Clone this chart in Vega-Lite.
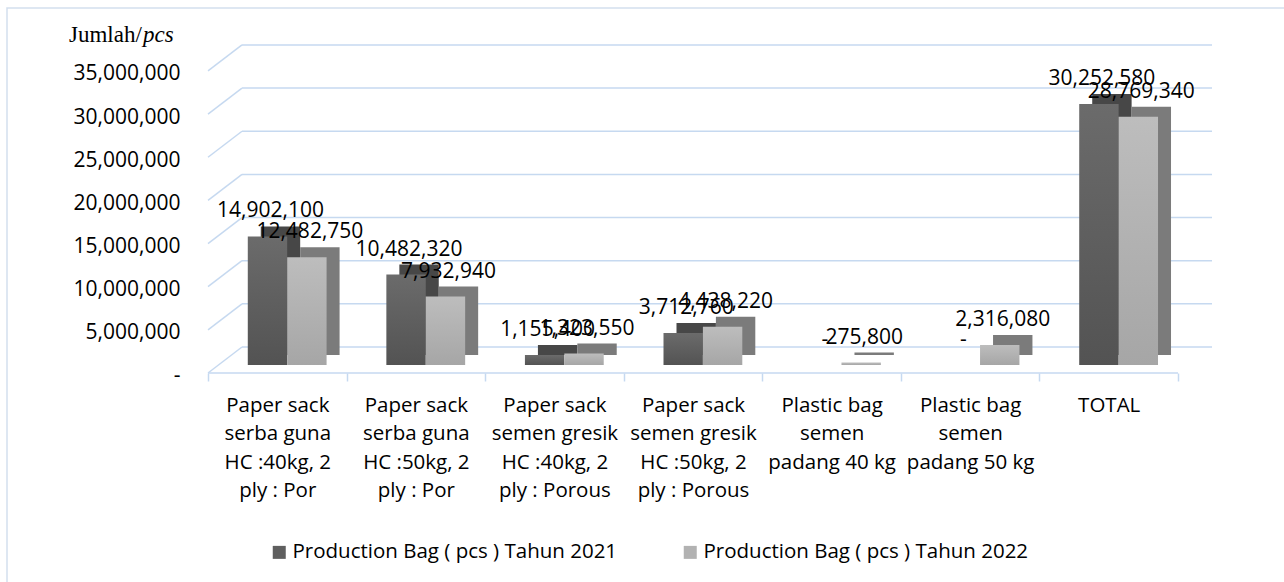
{
  "$schema": "https://vega.github.io/schema/vega-lite/v6.json",
  "width": 1278,
  "height": 575,
  "autosize": "none",
  "padding": {"left": 7, "top": 8, "right": -1, "bottom": -1},
  "background": "white",
  "config": {"view": {"stroke": "#d3dfee", "strokeWidth": 1.5}, "font": "Open Sans"},
  "datasets": {
    "bars": [
      {"cat": "Paper sack\nserba guna\nHC :40kg, 2\nply : Por", "series": "Production Bag ( pcs ) Tahun 2021", "value": 14902100},
      {"cat": "Paper sack\nserba guna\nHC :40kg, 2\nply : Por", "series": "Production Bag ( pcs ) Tahun 2022", "value": 12482750},
      {"cat": "Paper sack\nserba guna\nHC :50kg, 2\nply : Por", "series": "Production Bag ( pcs ) Tahun 2021", "value": 10482320},
      {"cat": "Paper sack\nserba guna\nHC :50kg, 2\nply : Por", "series": "Production Bag ( pcs ) Tahun 2022", "value": 7932940},
      {"cat": "Paper sack\nsemen gresik\nHC :40kg, 2\nply : Porous", "series": "Production Bag ( pcs ) Tahun 2021", "value": 1155400},
      {"cat": "Paper sack\nsemen gresik\nHC :40kg, 2\nply : Porous", "series": "Production Bag ( pcs ) Tahun 2022", "value": 1323550},
      {"cat": "Paper sack\nsemen gresik\nHC :50kg, 2\nply : Porous", "series": "Production Bag ( pcs ) Tahun 2021", "value": 3712760},
      {"cat": "Paper sack\nsemen gresik\nHC :50kg, 2\nply : Porous", "series": "Production Bag ( pcs ) Tahun 2022", "value": 4438220},
      {"cat": "Plastic bag\nsemen\npadang 40 kg", "series": "Production Bag ( pcs ) Tahun 2021", "value": 0},
      {"cat": "Plastic bag\nsemen\npadang 40 kg", "series": "Production Bag ( pcs ) Tahun 2022", "value": 275800},
      {"cat": "Plastic bag\nsemen\npadang 50 kg", "series": "Production Bag ( pcs ) Tahun 2021", "value": 0},
      {"cat": "Plastic bag\nsemen\npadang 50 kg", "series": "Production Bag ( pcs ) Tahun 2022", "value": 2316080},
      {"cat": "TOTAL", "series": "Production Bag ( pcs ) Tahun 2021", "value": 30252580},
      {"cat": "TOTAL", "series": "Production Bag ( pcs ) Tahun 2022", "value": 28769340}
    ],
    "grid": [
      {"v": 0}, {"v": 5000000}, {"v": 10000000}, {"v": 15000000},
      {"v": 20000000}, {"v": 25000000}, {"v": 30000000}, {"v": 35000000}
    ]
  },
  "layer": [
    {
      "data": {"name": "grid"},
      "mark": {"type": "rule", "color": "#c6d9f0", "strokeWidth": 1.5, "yOffset": -18, "xOffset": -69.29, "x2Offset": 69.29},
      "encoding": {
        "x": {"datum": "Paper sack\nserba guna\nHC :40kg, 2\nply : Por", "type": "nominal",
          "scale": {"domain": ["Paper sack\nserba guna\nHC :40kg, 2\nply : Por", "Paper sack\nserba guna\nHC :50kg, 2\nply : Por", "Paper sack\nsemen gresik\nHC :40kg, 2\nply : Porous", "Paper sack\nsemen gresik\nHC :50kg, 2\nply : Porous", "Plastic bag\nsemen\npadang 40 kg", "Plastic bag\nsemen\npadang 50 kg", "TOTAL"], "range": [235, 1205], "paddingInner": 0, "paddingOuter": 0},
          "axis": {"title": null, "domain": false, "ticks": true, "tickBand": "extent", "tickColor": "#c6d9f0", "tickWidth": 1.5, "tickSize": 8, "labelAngle": 0, "labelExpr": "split(datum.label, '\\n')", "labelFont": "Open Sans", "labelFontSize": 20.5, "labelLineHeight": 28.5, "labelPadding": 14, "labelColor": "#000000", "labelLimit": 300, "labelOverlap": false, "grid": false, "offset": -210, "position": -34}},
        "x2": {"datum": "TOTAL"},
        "y": {"field": "v", "type": "quantitative", "scale": {"domain": [-25261000, 41367000], "nice": false},
          "axis": {"values": [0, 5000000, 10000000, 15000000, 20000000, 25000000, 30000000, 35000000], "domain": false, "ticks": false, "tickSize": 0, "grid": false, "labelPadding": 0, "offset": -173, "labelOffset": 11, "labelExpr": "datum.value === 0 ? '-' : format(datum.value, ',')", "labelFont": "Open Sans", "labelFontSize": 21, "labelColor": "#000000", "labelBaseline": "middle",
            "title": "Jumlah/", "titleAngle": 0, "titleAlign": "left", "titleBaseline": "alphabetic", "titleX": -111.5, "titleY": 33.5, "titleFont": "Liberation Serif", "titleFontSize": 23, "titleFontWeight": "normal", "titleColor": "#000000"}}
      }
    },
    {
      "data": {"name": "grid"},
      "mark": {"type": "rule", "color": "#c6d9f0", "strokeWidth": 1.5, "yOffset": 8, "y2Offset": -18, "xOffset": -103.29, "x2Offset": -69.29},
      "encoding": {
        "x": {"datum": "Paper sack\nserba guna\nHC :40kg, 2\nply : Por", "type": "nominal"},
        "x2": {"datum": "Paper sack\nserba guna\nHC :40kg, 2\nply : Por"},
        "y": {"field": "v", "type": "quantitative"},
        "y2": {"field": "v"}
      }
    },
    {
      "data": {"name": "grid"},
      "transform": [{"filter": "datum.v === 0"}],
      "mark": {"type": "rule", "color": "#c6d9f0", "strokeWidth": 1.5, "yOffset": 8, "xOffset": -103.29, "x2Offset": 35.29},
      "encoding": {
        "x": {"datum": "Paper sack\nserba guna\nHC :40kg, 2\nply : Por", "type": "nominal"},
        "x2": {"datum": "TOTAL"},
        "y": {"field": "v", "type": "quantitative"}
      }
    },
    {
      "data": {"name": "grid"},
      "transform": [{"filter": "datum.v === 35000000"}],
      "mark": {"type": "text", "text": "pcs", "align": "left", "baseline": "alphabetic", "xOffset": -168.3, "yOffset": -21, "font": "Liberation Serif", "fontSize": 23, "fontStyle": "italic", "color": "#000000"},
      "encoding": {
        "x": {"datum": "Paper sack\nserba guna\nHC :40kg, 2\nply : Por", "type": "nominal"},
        "y": {"field": "v", "type": "quantitative"}
      }
    },
    {
      "data": {"name": "bars"},
      "mark": {"type": "bar", "width": 39.4, "opacity": 0},
      "encoding": {
        "x": {"field": "cat", "type": "nominal", "sort": null},
        "y": {"field": "value", "type": "quantitative"},
        "color": {"field": "series", "type": "nominal", "scale": {"domain": ["Production Bag ( pcs ) Tahun 2021", "Production Bag ( pcs ) Tahun 2022"], "range": ["#5f5f5f", "#b2b2b2"]},
          "legend": {"orient": "none", "legendX": 262, "legendY": 534, "direction": "horizontal", "title": null, "symbolType": "square", "symbolSize": 169, "symbolStrokeWidth": 0, "symbolOpacity": 1, "labelFont": "Open Sans", "labelFontSize": 20.5, "labelColor": "#000000", "columnPadding": 62, "labelOffset": 3, "labelLimit": 500}}
      }
    },
    {
      "data": {"name": "bars"},
      "transform": [{"filter": "datum.series === 'Production Bag ( pcs ) Tahun 2021'"}],
      "mark": {"type": "bar", "width": 39.4, "xOffset": -30.8, "yOffset": -10, "y2Offset": -10, "color": "#474747"},
      "encoding": {
        "x": {"field": "cat", "type": "nominal", "sort": null},
        "y": {"field": "value", "type": "quantitative"}
      }
    },
    {
      "data": {"name": "bars"},
      "transform": [{"filter": "datum.series === 'Production Bag ( pcs ) Tahun 2022'"}],
      "mark": {"type": "bar", "width": 39.4, "xOffset": 8.6, "yOffset": -10, "y2Offset": -10, "color": "#7b7b7b"},
      "encoding": {
        "x": {"field": "cat", "type": "nominal", "sort": null},
        "y": {"field": "value", "type": "quantitative"}
      }
    },
    {
      "data": {"name": "bars"},
      "transform": [{"filter": "datum.series === 'Production Bag ( pcs ) Tahun 2021'"}],
      "mark": {"type": "bar", "width": 39.4, "xOffset": -43.8,
        "fill": {"gradient": "linear", "x1": 0, "y1": 0, "x2": 0, "y2": 1, "stops": [{"offset": 0, "color": "#6b6b6b"}, {"offset": 1, "color": "#535353"}]}},
      "encoding": {
        "x": {"field": "cat", "type": "nominal", "sort": null},
        "y": {"field": "value", "type": "quantitative"}
      }
    },
    {
      "data": {"name": "bars"},
      "transform": [{"filter": "datum.series === 'Production Bag ( pcs ) Tahun 2022'"}],
      "mark": {"type": "bar", "width": 39.4, "xOffset": -4.4,
        "fill": {"gradient": "linear", "x1": 0, "y1": 0, "x2": 0, "y2": 1, "stops": [{"offset": 0, "color": "#bdbdbd"}, {"offset": 1, "color": "#a6a6a6"}]}},
      "encoding": {
        "x": {"field": "cat", "type": "nominal", "sort": null},
        "y": {"field": "value", "type": "quantitative"}
      }
    },
    {
      "data": {"name": "bars"},
      "transform": [{"filter": "datum.series === 'Production Bag ( pcs ) Tahun 2021'"}],
      "mark": {"type": "text", "xOffset": -40.8, "yOffset": -19, "baseline": "alphabetic", "align": "center", "font": "Open Sans", "fontSize": 21, "color": "#000000"},
      "encoding": {
        "x": {"field": "cat", "type": "nominal", "sort": null},
        "y": {"field": "value", "type": "quantitative"},
        "text": {"condition": {"test": "datum.value === 0", "value": "-"}, "field": "value", "type": "quantitative", "format": ","}
      }
    },
    {
      "data": {"name": "bars"},
      "transform": [{"filter": "datum.series === 'Production Bag ( pcs ) Tahun 2022'"}],
      "mark": {"type": "text", "xOffset": -1.4, "yOffset": -19, "baseline": "alphabetic", "align": "center", "font": "Open Sans", "fontSize": 21, "color": "#000000"},
      "encoding": {
        "x": {"field": "cat", "type": "nominal", "sort": null},
        "y": {"field": "value", "type": "quantitative"},
        "text": {"condition": {"test": "datum.value === 0", "value": "-"}, "field": "value", "type": "quantitative", "format": ","}
      }
    }
  ]
}
